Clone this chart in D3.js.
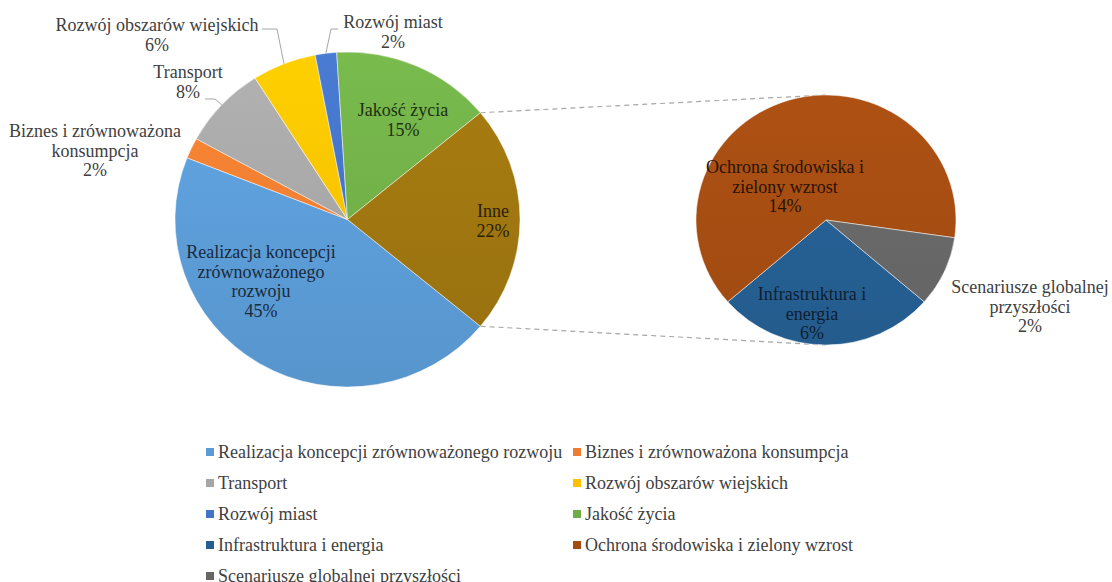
<!DOCTYPE html>
<html>
<head>
<meta charset="utf-8">
<script src="https://cdn.jsdelivr.net/npm/d3@7"></script>
<style>
  body { margin: 0; background: #fff; }
</style>
</head>
<body>
<script>
// main pie
var mainLabels = ["Realizacja koncepcji zrównoważonego rozwoju", "Biznes i zrównoważona konsumpcja",
  "Transport", "Rozwój obszarów wiejskich", "Rozwój miast", "Jakość życia", "Inne"];
var mainValues = [45, 2, 8, 6, 2, 15, 22];
var mainColors = ["#5b9bd5", "#ed7d31", "#a5a5a5", "#ffc000", "#4472c4", "#70ad47", "#9c7410"];

// secondary pie (split of "Inne")
var subLabels = ["Infrastruktura i energia", "Ochrona środowiska i zielony wzrost", "Scenariusze globalnej przyszłości"];
var subValues = [6, 14, 2];
var subColors = ["#255e91", "#a34c12", "#666666"];

var w = 1112, h = 582;
var font = "'Liberation Serif'";

// pie geometry (slightly stretched horizontally, like the source)
var m = {cx: 347.5, cy: 219.5, ry: 167.5, sx: 1.03};
var s = {cx: 826, cy: 220, ry: 125, sx: 1.04};

// label layout: lines and position of the label block
var mainLabelLayout = [
  {lines: ["Realizacja koncepcji", "zrównoważonego", "rozwoju", "45%"], x: 261, y: 252, fill: "#1a2a3a"},
  {lines: ["Biznes i zrównoważona", "konsumpcja", "2%"], x: 95, y: 131, fill: "#404040"},
  {lines: ["Transport", "8%"], x: 188, y: 72, fill: "#404040"},
  {lines: ["Rozwój obszarów wiejskich", "6%"], x: 157, y: 25, fill: "#404040"},
  {lines: ["Rozwój miast", "2%"], x: 393, y: 22, fill: "#404040"},
  {lines: ["Jakość życia", "15%"], x: 403, y: 110, fill: "#1e3010"},
  {lines: ["Inne", "22%"], x: 493, y: 211, fill: "#2a2008"}
];
var subLabelLayout = [
  {lines: ["Infrastruktura i", "energia", "6%"], x: 812, y: 294, fill: "#0f1e30"},
  {lines: ["Ochrona środowiska i", "zielony wzrost", "14%"], x: 785, y: 167, fill: "#2a1205"},
  {lines: ["Scenariusze globalnej", "przyszłości", "2%"], x: 1030, y: 287, fill: "#404040"}
];

var svg = d3.select("body").append("svg")
  .attr("width", w).attr("height", h);

var defs = svg.append("defs");
function addGradient(id, c) {
  var g = defs.append("linearGradient").attr("id", id)
    .attr("gradientUnits", "userSpaceOnUse")
    .attr("x1", 0).attr("y1", -200).attr("x2", 0).attr("y2", 200);
  g.append("stop").attr("offset", "0%").attr("stop-color", d3.color(c).brighter(0.25));
  g.append("stop").attr("offset", "100%").attr("stop-color", d3.color(c).darker(0.15));
}
mainColors.forEach(function(c, i) { addGradient("gm" + i, c); });
subColors.forEach(function(c, i) { addGradient("gs" + i, c); });

// "Inne" is centred on the right (90deg)
var inneIdx = mainValues.length - 1;
var total = d3.sum(mainValues);
var inneSpan = mainValues[inneIdx] / total * 2 * Math.PI;
var mainStart = Math.PI / 2 - inneSpan / 2 - (2 * Math.PI - inneSpan);

var mainPie = d3.pie().sort(null).value(function(d) { return d; })
  .startAngle(mainStart).endAngle(mainStart + 2 * Math.PI);
var mainArcs = mainPie(mainValues);

// secondary: first slice centred at the bottom
var subTotal = d3.sum(subValues);
var subStart = Math.PI - subValues[0] / subTotal * Math.PI;
var subPie = d3.pie().sort(null).value(function(d) { return d; })
  .startAngle(subStart).endAngle(subStart + 2 * Math.PI);
var subArcs = subPie(subValues);

// connector lines (behind pies)
var inneArc = mainArcs[inneIdx];
function ptOn(g, a) {
  return [g.cx + g.sx * g.ry * Math.sin(a), g.cy - g.ry * Math.cos(a)];
}
var p1 = ptOn(m, inneArc.startAngle), p2 = ptOn(m, inneArc.endAngle);
var q1 = [s.cx, s.cy - s.ry], q2 = [s.cx, s.cy + s.ry];
svg.append("g").selectAll("line")
  .data([[p1, q1], [p2, q2]])
  .enter().append("line")
  .attr("x1", function(d) { return d[0][0]; })
  .attr("y1", function(d) { return d[0][1]; })
  .attr("x2", function(d) { return d[1][0]; })
  .attr("y2", function(d) { return d[1][1]; })
  .attr("stroke", "#a6a6a6").attr("stroke-width", 1.2)
  .attr("stroke-dasharray", "5,4");

var mainArc = d3.arc().innerRadius(0).outerRadius(m.ry);
svg.append("g")
  .attr("transform", "translate(" + m.cx + "," + m.cy + ") scale(" + m.sx + ",1)")
  .selectAll("path")
  .data(mainArcs)
  .enter().append("path")
  .attr("d", mainArc)
  .attr("fill", function(d, i) { return "url(#gm" + i + ")"; })
  .attr("stroke", "#ffffff").attr("stroke-opacity", 0.6).attr("stroke-width", 0.8);

var subArc = d3.arc().innerRadius(0).outerRadius(s.ry);
svg.append("g")
  .attr("transform", "translate(" + s.cx + "," + s.cy + ") scale(" + s.sx + ",1)")
  .selectAll("path")
  .data(subArcs)
  .enter().append("path")
  .attr("d", subArc)
  .attr("fill", function(d, i) { return "url(#gs" + i + ")"; })
  .attr("stroke", "#ffffff").attr("stroke-opacity", 0.6).attr("stroke-width", 0.8);

// leader lines for the small outer labels
var leaders = [
  {i: 3, pts: [[262, 29], [277, 29]]},
  {i: 4, pts: [[338, 29], [331, 29]]},
  {i: 2, pts: [[205, 99], [215, 99]]}
];
leaders.forEach(function(l) {
  var a = mainArcs[l.i];
  var mid = (a.startAngle + a.endAngle) / 2;
  var end = ptOn(m, mid);
  svg.append("path")
    .attr("d", d3.line()(l.pts.concat([end])))
    .attr("fill", "none").attr("stroke", "#a6a6a6").attr("stroke-width", 1);
});

// data labels
var lineH = 19.5;
function drawLabels(layout) {
  layout.forEach(function(lab) {
    var t = svg.append("text")
      .attr("text-anchor", "middle")
      .style("font-family", font)
      .style("font-size", "18px")
      .attr("fill", lab.fill);
    lab.lines.forEach(function(line, k) {
      t.append("tspan").attr("x", lab.x)
        .attr("y", lab.y + k * lineH + 6)
        .text(line);
    });
  });
}
drawLabels(mainLabelLayout);
drawLabels(subLabelLayout);

// legend
var legendItems = mainLabels.slice(0, inneIdx).map(function(d, i) { return {name: d, color: mainColors[i]}; })
  .concat(subLabels.map(function(d, i) { return {name: d, color: subColors[i]}; }));
var legX = d3.scaleOrdinal().domain([0, 1]).range([206, 573]);
var legY = d3.scaleLinear().domain([0, 4]).range([452, 576]);

var leg = svg.append("g").selectAll("g")
  .data(legendItems)
  .enter().append("g")
  .attr("transform", function(d, i) {
    return "translate(" + legX(i % 2) + "," + legY(Math.floor(i / 2)) + ")";
  });
leg.append("rect")
  .attr("x", 0).attr("y", -4).attr("width", 8).attr("height", 8)
  .attr("fill", function(d) { return d.color; });
leg.append("text")
  .attr("x", 12).attr("y", 5.5)
  .style("font-family", font)
  .style("font-size", "18px")
  .attr("fill", "#404040")
  .text(function(d) { return d.name; });
</script>
</body>
</html>
